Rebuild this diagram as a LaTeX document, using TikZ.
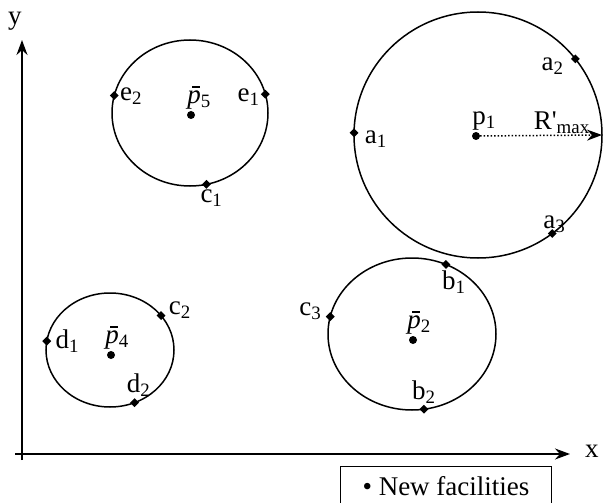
\documentclass[tikz,border=0pt]{standalone}
\usepackage{fontspec}
\setmainfont{Liberation Serif}
\usetikzlibrary{positioning,arrows.meta,shapes.geometric}

\newcommand{\pbar}[1]{\textit{p}\llap{\raisebox{0.58em}{\rule{0.3em}{0.07em}}\kern0.5pt}\textsubscript{#1}}

\begin{document}
\begin{tikzpicture}[
x=1pt, y=-1pt,
>={Stealth[length=15pt,width=11pt]},
font=\fontsize{27}{31}\selectfont,
region/.style={
draw,
ellipse,
line width=1.5pt,
inner sep=0pt,
outer sep=0pt
},
site/.style={
diamond,
fill,
inner sep=0pt,
minimum size=9pt
},
centre/.style={
circle,
fill,
inner sep=0pt,
minimum size=8pt
},
lbl/.style={inner sep=1pt},
axis/.style={->,line width=1.6pt}
]

\useasboundingbox (0,0) rectangle (606,503);

%%%%%%%%%%%%%%%%%%%%%%%%%%%%%%%%%%%%
% Axes
%%%%%%%%%%%%%%%%%%%%%%%%%%%%%%%%%%%%

\coordinate (xstart) at (15,454);
\coordinate (xend) at (570,454);
\coordinate (ystart) at (22,460);
\coordinate (yend) at (22,40);

\draw[axis] (xstart)--(xend);

\draw[axis] (ystart)--(yend);

\node[lbl,right=14pt of xend,yshift=3pt] (xlabel) {x};

\node[lbl,above=8pt of yend,xshift=-7pt] (ylabel) {y};

%%%%%%%%%%%%%%%%%%%%%%%%%%%%%%%%%%%%
% Regions
%%%%%%%%%%%%%%%%%%%%%%%%%%%%%%%%%%%%

\node[region,minimum width=248pt,minimum height=246pt] (circ1) at (478,135) {};

\node[region,minimum width=156pt,minimum height=146pt] (circ5) at (190,113) {};

\node[region,minimum width=128pt,minimum height=114pt] (circ4) at (110,350) {};

\node[region,minimum width=168pt,minimum height=152pt] (circ2) at (412,334) {};

%%%%%%%%%%%%%%%%%%%%%%%%%%%%%%%%%%%%
% New facilities
%%%%%%%%%%%%%%%%%%%%%%%%%%%%%%%%%%%%

\node[centre,label={[lbl,xshift=8pt]above:p\textsubscript{1}}] (p1) at (476,136) {};

\node[centre,label={[lbl,xshift=8pt]above:\pbar{5}}] (p5) at (191,115) {};

\node[centre,label={[lbl,xshift=6pt]above:\pbar{4}}] (p4) at (111,355) {};

\node[centre,label={[lbl,xshift=6pt]above:\pbar{2}}] (p2) at (413,340) {};

%%%%%%%%%%%%%%%%%%%%%%%%%%%%%%%%%%%%
% Existing points
%%%%%%%%%%%%%%%%%%%%%%%%%%%%%%%%%%%%

\node[site,label={[lbl,xshift=5pt,yshift=-6pt]right:a\textsubscript{1}}] (a1) at (circ1.179) {};

\node[site,label={[lbl,xshift=-6pt,yshift=-7pt]left:a\textsubscript{2}}] (a2) at (circ1.38) {};

\node[site,label={[lbl,xshift=2pt,yshift=-5pt]above:a\textsubscript{3}}] (a3) at (circ1.-53) {};

\node[site,label={[lbl,yshift=-1pt]right:e\textsubscript{2}}] (e2) at (circ5.167) {};

\node[site,label={[lbl,yshift=-3pt]left:e\textsubscript{1}}] (e1) at (circ5.14) {};

\node[site,label={[lbl,xshift=5pt]below:c\textsubscript{1}}] (c1) at (circ5.-77) {};

\node[site,label={[lbl,xshift=3pt]right:d\textsubscript{1}}] (d1) at (circ4.172) {};

\node[site,label={[lbl,xshift=2pt,yshift=5pt]right:c\textsubscript{2}}] (c2) at (circ4.34) {};

\node[site,label={[lbl,xshift=4pt]above:d\textsubscript{2}}] (d2) at (circ4.-65) {};

\node[site,label={[lbl,xshift=8pt]below:b\textsubscript{1}}] (b1) at (circ2.64) {};

\node[site,label={[lbl,xshift=-3pt,yshift=5pt]left:c\textsubscript{3}}] (c3) at (circ2.168) {};

\node[site,label={[lbl]above:b\textsubscript{2}}] (b2) at (circ2.-81) {};

%%%%%%%%%%%%%%%%%%%%%%%%%%%%%%%%%%%%
% Radius
%%%%%%%%%%%%%%%%%%%%%%%%%%%%%%%%%%%%

\draw[->,dotted,line width=1.5pt] (p1)--node[lbl,above,pos=0.67]
{R\textquotesingle\textsubscript{max}} (circ1.0);

%%%%%%%%%%%%%%%%%%%%%%%%%%%%%%%%%%%%
% Legend
%%%%%%%%%%%%%%%%%%%%%%%%%%%%%%%%%%%%

\node[draw,line width=1.2pt,minimum width=211pt,minimum height=40pt,anchor=north]
(legend) at (446,466) {\textbullet\ New facilities};

\end{tikzpicture}
\end{document}
